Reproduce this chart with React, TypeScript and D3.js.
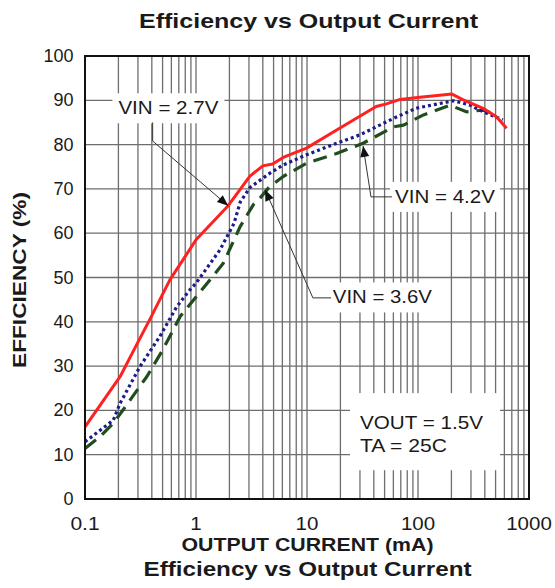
import React, { useEffect, useRef } from "react";
import * as d3 from "d3";

const xTickValues = [0.1, 1, 10, 100, 1000];
const xTickLabels = ["0.1", "1", "10", "100", "1000"];
const yTickValues = [0, 10, 20, 30, 40, 50, 60, 70, 80, 90, 100];

const vin27X = [0.1, 0.207, 0.3, 0.385, 0.58, 1.0, 1.95, 3.06, 4.0, 4.9, 6.1, 9.9, 18.5, 42, 52, 69, 104, 202, 256, 386, 509, 628];
const vin27Y = [16.3, 27.6, 35.4, 40.6, 49.4, 58.5, 66.2, 72.9, 75.2, 75.6, 77.1, 79.2, 83.3, 88.6, 89.2, 90.2, 90.7, 91.4, 90.1, 88.2, 86.3, 83.7];

const vin36X = [0.1, 0.18, 0.207, 0.313, 0.47, 0.67, 0.88, 1.0, 1.64, 2.2, 2.5, 3.06, 4.6, 6.1, 9.9, 18.5, 30, 60, 96, 209, 295, 386, 580];
const vin36Y = [12.9, 17.8, 21.6, 29.9, 36.6, 43.4, 47.2, 48.7, 56.2, 62.2, 67.0, 70.3, 73.5, 75.4, 77.7, 80.3, 82.2, 85.9, 88.2, 89.9, 88.9, 87.4, 85.6];

const vin42X = [0.1, 0.137, 0.18, 0.22, 0.36, 0.5, 0.72, 0.95, 1.76, 2.5, 3.3, 3.77, 4.6, 6.1, 9.9, 18.5, 32, 60, 74, 112, 194, 273, 386, 509];
const vin42Y = [11.4, 14.1, 17.1, 20.1, 27.6, 33.6, 41.2, 44.9, 53.2, 61.5, 66.5, 67.9, 70.5, 72.8, 75.8, 78.0, 80.3, 84.0, 84.4, 86.7, 88.9, 87.4, 87.8, 86.7];

const W = 555;
const H = 588;

export default function App() {
  const ref = useRef<SVGSVGElement>(null);

  useEffect(() => {
    const svg = d3.select(ref.current);
    svg.selectAll("*").remove();

    const x = d3.scaleLog().domain([0.1, 1000]).range([85, 529]);
    const y = d3.scaleLinear().domain([0, 100]).range([499, 56]);
    const font = "Liberation Sans, Arial, sans-serif";

    const txt = (
      parent: any, px: number, py: number, s: string,
      o: { size: number; bold?: boolean; anchor?: string; base?: string; width?: number; transform?: string }
    ) => {
      const t = parent.append("text")
        .attr("x", px).attr("y", py)
        .attr("text-anchor", o.anchor || "start")
        .attr("dominant-baseline", o.base || "alphabetic")
        .attr("font-family", font).attr("font-size", o.size)
        .attr("font-weight", o.bold ? "bold" : "normal")
        .attr("fill", "#1a1a1a").text(s);
      if (o.transform) t.attr("transform", o.transform);
      if (o.width) t.attr("textLength", o.width).attr("lengthAdjust", "spacingAndGlyphs");
      return t;
    };

    // grid
    const vGrid: number[] = [];
    for (const dec of [0.1, 1, 10, 100]) {
      for (let m = 1; m <= 9; m++) vGrid.push(dec * m);
    }
    vGrid.push(1000);
    const grid = svg.append("g");
    grid.selectAll("line.v").data(vGrid).enter().append("line")
      .attr("x1", d => x(d)).attr("x2", d => x(d))
      .attr("y1", y(0)).attr("y2", y(100))
      .attr("stroke", "#6e6e6e").attr("stroke-width", 1.3);
    grid.selectAll("line.h").data(yTickValues).enter().append("line")
      .attr("x1", x(0.1)).attr("x2", x(1000))
      .attr("y1", d => y(d)).attr("y2", d => y(d))
      .attr("stroke", "#6e6e6e").attr("stroke-width", 1.3);

    // series
    const line = d3.line<[number, number]>().x(d => x(d[0])).y(d => y(d[1]));
    const series = [
      { xs: vin42X, ys: vin42Y, color: "#1f4d1f", dash: "14,8", w: 3.2 },
      { xs: vin36X, ys: vin36Y, color: "#1c1c8a", dash: "3,3", w: 3.2 },
      { xs: vin27X, ys: vin27Y, color: "#ff2020", dash: null, w: 3 },
    ];
    series.forEach(s => {
      const pts = s.xs.map((v, i) => [v, s.ys[i]] as [number, number]);
      svg.append("path").attr("d", line(pts)!)
        .attr("fill", "none").attr("stroke", s.color)
        .attr("stroke-width", s.w)
        .attr("stroke-dasharray", s.dash as any)
        .attr("stroke-linejoin", "round");
    });

    // labels with white boxes
    const label = (tx: number, ty: number, text: string, width: number, pad: [number, number]) => {
      const g = svg.append("g");
      const t = txt(g, x(tx), y(ty), text, { size: 18, base: "central", width });
      const bb = (t.node() as SVGTextElement).getBBox();
      g.insert("rect", "text").attr("x", bb.x - pad[0]).attr("y", bb.y - pad[1])
        .attr("width", bb.width + 2 * pad[0]).attr("height", bb.height + 2 * pad[1])
        .attr("fill", "white");
    };

    // VOUT box
    svg.append("rect").attr("x", x(24.4)).attr("y", y(23.9))
      .attr("width", x(548) - x(24.4)).attr("height", y(6.5) - y(23.9)).attr("fill", "white");
    txt(svg, x(30), y(17.1), "VOUT = 1.5V", { size: 18, base: "central", width: 123 });
    txt(svg, x(30), y(12.0), "TA = 25C", { size: 18, base: "central", width: 87 });

    label(0.2, 88.2, "VIN = 2.7V", 100, [6, 5]);
    label(17.1, 45.5, "VIN = 3.6V", 99, [2, 5]);
    label(62, 68.2, "VIN = 4.2V", 100, [5, 5]);

    // leaders
    const arrows = [
      { pts: [[0.407, 85.0], [0.407, 80.8], [1.95, 66.2]] },
      { pts: [[16.5, 45.4], [11.3, 45.4], [4.19, 69.8]] },
      { pts: [[58.3, 68.2], [37.7, 68.2], [32, 79.7]] },
    ];
    arrows.forEach(a => {
      const p = a.pts.map(d => [x(d[0]), y(d[1])] as [number, number]);
      svg.append("path").attr("d", d3.line()(p)!).attr("fill", "none")
        .attr("stroke", "#333").attr("stroke-width", 1);
      const [x1, y1] = p[p.length - 2];
      const [x2, y2] = p[p.length - 1];
      const ang = Math.atan2(y2 - y1, x2 - x1);
      const L = 11, Wd = 4.5;
      const bx = x2 - L * Math.cos(ang), by = y2 - L * Math.sin(ang);
      const tri: [number, number][] = [
        [x2, y2],
        [bx + Wd * Math.sin(ang), by - Wd * Math.cos(ang)],
        [bx - Wd * Math.sin(ang), by + Wd * Math.cos(ang)],
      ];
      svg.append("path").attr("d", d3.line()(tri)! + "Z").attr("fill", "#111");
    });

    // border
    svg.append("rect").attr("x", x(0.1)).attr("y", y(100))
      .attr("width", x(1000) - x(0.1)).attr("height", y(0) - y(100))
      .attr("fill", "none").attr("stroke", "#111").attr("stroke-width", 2);

    // tick labels
    xTickValues.forEach((v, i) => {
      const lbl = xTickLabels[i];
      txt(svg, x(v), 530, lbl, { size: 19, anchor: "middle", width: lbl.length * 11.4 - (lbl.includes(".") ? 5 : 0) });
    });
    yTickValues.forEach(v => {
      txt(svg, 73.5, y(v), String(v), { size: 18, anchor: "end", base: "central" });
    });

    // titles
    txt(svg, 308.5, 28, "Efficiency vs Output Current", { size: 21, bold: true, anchor: "middle", width: 339 });
    txt(svg, 307.5, 550.5, "OUTPUT CURRENT (mA)", { size: 18, bold: true, anchor: "middle", width: 252 });
    txt(svg, 307.5, 576, "Efficiency vs Output Current", { size: 21, bold: true, anchor: "middle", width: 328 });
    txt(svg, 0, 0, "EFFICIENCY (%)", {
      size: 18, bold: true, anchor: "middle", base: "central", width: 176,
      transform: "translate(20,280) rotate(-90)",
    });
  }, []);

  return (
    <svg ref={ref} width={W} height={H}
      style={{ position: "absolute", left: 0, top: 0, background: "white" }} />
  );
}
